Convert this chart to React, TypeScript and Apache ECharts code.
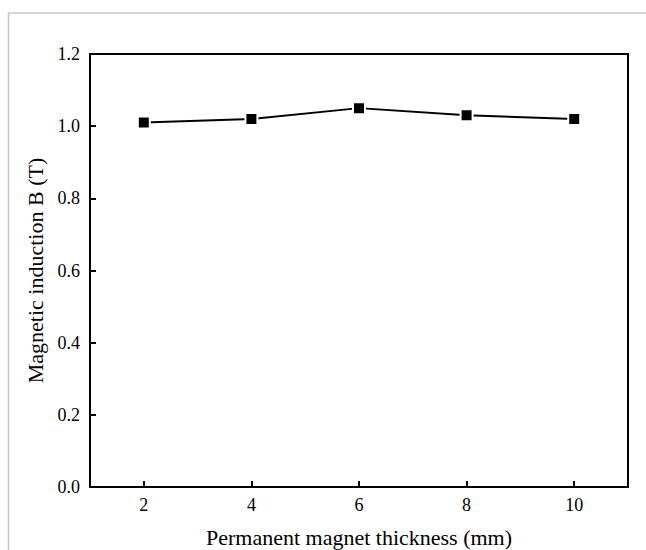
import React, { useEffect, useRef } from "react";
import * as echarts from "echarts";

const thickness = ["2", "4", "6", "8", "10"];
const induction = [1.01, 1.02, 1.05, 1.03, 1.02];

export default function App() {
  const ref = useRef<HTMLDivElement>(null);
  useEffect(() => {
    if (!ref.current) return;
    const chart = echarts.init(ref.current, null, { renderer: "svg" });
    const font = "Liberation Serif";
    chart.setOption({
      animation: false,
      backgroundColor: "#fff",
      textStyle: { fontFamily: font },
      grid: {
        left: 90,
        top: 54,
        right: 18,
        bottom: 63,
        containLabel: false,
        outerBoundsMode: "none",
        show: true,
        borderColor: "#000",
        borderWidth: 2,
      },
      xAxis: {
        type: "category",
        data: thickness,
        boundaryGap: true,
        name: "Permanent magnet thickness (mm)",
        nameLocation: "middle",
        nameGap: 39,
        nameTextStyle: { fontFamily: font, fontSize: 22, color: "#000" },
        splitLine: { show: false },
        axisLine: { show: true, lineStyle: { color: "#000", width: 2 } },
        axisTick: {
          show: true,
          inside: true,
          alignWithLabel: true,
          length: 6,
          lineStyle: { color: "#000", width: 2 },
        },
        axisLabel: {
          fontFamily: font,
          fontSize: 18,
          color: "#000",
          margin: 9,
        },
      },
      yAxis: {
        type: "value",
        min: 0,
        max: 1.2,
        interval: 0.2,
        name: "Magnetic induction B (T)",
        nameLocation: "middle",
        nameGap: 35,
        nameTextStyle: { fontFamily: font, fontSize: 22, color: "#000" },
        splitLine: { show: false },
        axisLine: { show: true, lineStyle: { color: "#000", width: 2 } },
        axisTick: {
          show: true,
          inside: true,
          length: 6,
          lineStyle: { color: "#000", width: 2 },
        },
        axisLabel: {
          formatter: (v: number) => v.toFixed(1),
          fontFamily: font,
          fontSize: 18,
          color: "#000",
          margin: 10,
        },
      },
      series: [
        {
          type: "line",
          data: induction,
          symbol: "rect",
          symbolSize: 12,
          lineStyle: { color: "#000", width: 2 },
          itemStyle: { color: "#000", borderColor: "#fff", borderWidth: 2 },
          z: 3,
        },
      ],
      graphic: [
        {
          type: "line",
          shape: { x1: 8, y1: 13, x2: 646, y2: 13 },
          style: { stroke: "#c8c8c8", lineWidth: 1.5 },
        },
        {
          type: "line",
          shape: { x1: 8.5, y1: 13, x2: 8.5, y2: 550 },
          style: { stroke: "#c8c8c8", lineWidth: 1.5 },
        },
      ],
    });
    return () => chart.dispose();
  }, []);
  return (
    <div
      ref={ref}
      style={{ position: "fixed", left: 0, top: 0, width: 646, height: 550 }}
    />
  );
}
